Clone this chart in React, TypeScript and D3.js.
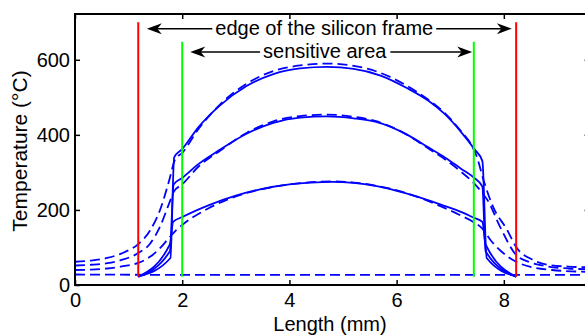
import React, { useEffect, useRef } from 'react';
import * as d3 from 'd3';

type Pt = [number, number];

const xTicks = [0, 2, 4, 6, 8];
const yTicks = [0, 200, 400, 600];

// vertical markers (mm) and their extent (°C)
const frameEdges = [1.18, 8.23];
const frameSpan: Pt = [22, 700];
const sensitiveEdges = [2.0, 7.44];
const sensitiveSpan: Pt = [22, 648];

// solid curves (kinked at the membrane edge)
const topSolid: Pt[] = [
  [1.18, 22], [1.78, 72], [1.85, 340], [2.0, 362], [2.3, 420], [2.7, 478], [3.2, 530],
  [3.7, 562], [4.2, 577], [4.7, 581], [5.2, 576], [5.7, 558], [6.2, 524], [6.6, 490],
  [6.9, 455], [7.2, 408], [7.45, 362], [7.6, 330], [7.68, 72], [8.23, 22],
];
const midSolid: Pt[] = [
  [1.18, 22], [1.77, 90], [1.84, 268], [2.0, 285], [2.3, 322], [2.7, 360], [3.2, 403],
  [3.7, 432], [4.2, 446], [4.7, 449], [5.2, 444], [5.6, 435], [6.2, 400], [6.6, 366],
  [6.9, 340], [7.2, 310], [7.45, 285], [7.6, 262], [7.66, 90], [8.23, 22],
];
const lowSolid: Pt[] = [
  [1.18, 22], [1.77, 108], [1.83, 168], [2.0, 181], [2.5, 213], [3.0, 238], [3.45, 255],
  [4.0, 268], [4.4, 273], [4.8, 275], [5.2, 272], [5.6, 264], [5.95, 253], [6.4, 235],
  [6.85, 213], [7.2, 195], [7.43, 180], [7.6, 168], [7.66, 108], [8.23, 22],
];

// dashed curves (full length)
const topDashed: Pt[] = [
  [0, 62], [0.3, 65], [0.6, 72], [0.9, 86], [1.18, 109], [1.4, 145], [1.6, 205],
  [1.75, 275], [1.87, 335], [2.0, 352], [2.3, 415], [2.7, 480], [3.2, 536], [3.7, 570],
  [4.2, 585], [4.7, 590], [5.2, 584], [5.7, 565], [6.2, 530], [6.6, 493], [6.9, 458],
  [7.2, 410], [7.4, 372], [7.5, 340], [7.62, 280], [7.8, 208], [8.06, 147], [8.23, 101],
  [8.54, 67], [8.86, 53], [9.2, 49], [9.6, 47],
];
const midDashed: Pt[] = [
  [0, 52], [0.3, 54], [0.6, 58], [0.9, 68], [1.18, 85], [1.4, 110], [1.6, 160],
  [1.75, 215], [1.85, 250], [2.0, 268], [2.3, 315], [2.7, 357], [3.2, 405], [3.7, 436],
  [4.2, 450], [4.7, 454], [5.2, 448], [5.6, 437], [6.2, 400], [6.6, 363], [6.9, 335],
  [7.2, 302], [7.45, 270], [7.6, 245], [7.7, 225], [7.93, 155], [8.23, 80], [8.5, 60],
  [8.8, 50], [9.2, 44], [9.6, 42],
];
const lowDashed: Pt[] = [
  [0, 40], [0.3, 41], [0.6, 44], [0.9, 50], [1.18, 59], [1.4, 75], [1.6, 100],
  [1.75, 125], [1.9, 148], [2.0, 160], [2.5, 205], [3.0, 236], [3.45, 254], [4.0, 268],
  [4.4, 274], [4.8, 276], [5.2, 273], [5.6, 265], [5.95, 254], [6.4, 234], [6.85, 208],
  [7.2, 185], [7.43, 168], [7.6, 150], [7.75, 120], [7.95, 90], [8.23, 62], [8.5, 48],
  [8.9, 40], [9.6, 35],
];
const ambientDashed: Pt[] = [[0, 28], [2, 27], [4, 27], [6, 27], [8, 27], [9.6, 27]];

const solidCurves = [topSolid, midSolid, lowSolid];
const dashedCurves = [topDashed, midDashed, lowDashed, ambientDashed];

// double arrows: tips (mm), height (°C), label centre (mm)
const arrowLabels = ['edge of the silicon frame', 'sensitive area'];
const arrowFrom = [1.34, 2.15];
const arrowTo = [8.15, 7.41];
const arrowLevel = [683, 621];
const arrowTextAt = [4.65, 4.66];

const W = 585;
const H = 335;
const FONT = 'Liberation Sans, Arial, Helvetica, sans-serif';

function TemperatureProfile() {
  const ref = useRef<SVGSVGElement | null>(null);

  useEffect(() => {
    const svg = d3.select(ref.current);
    svg.selectAll('*').remove();

    const xScale = d3.scaleLinear().domain([0, 9.6]).range([75, 589.6]);
    const yScale = d3.scaleLinear().domain([0, 722]).range([285, 14]);

    const line = d3.line<Pt>()
      .x(d => xScale(d[0]))
      .y(d => yScale(d[1]))
      .curve(d3.curveMonotoneX);

    // curves
    svg.selectAll('.solid')
      .data(solidCurves)
      .join('path')
      .attr('class', 'solid')
      .attr('fill', 'none')
      .attr('stroke', '#0000ff')
      .attr('stroke-width', 1.8)
      .attr('d', line);

    svg.selectAll('.dashed')
      .data(dashedCurves)
      .join('path')
      .attr('class', 'dashed')
      .attr('fill', 'none')
      .attr('stroke', '#0000ff')
      .attr('stroke-width', 1.8)
      .attr('stroke-dasharray', '10,5')
      .attr('d', line);

    // edge markers
    svg.selectAll('.frame-edge')
      .data(frameEdges)
      .join('line')
      .attr('class', 'frame-edge')
      .attr('x1', d => xScale(d)).attr('x2', d => xScale(d))
      .attr('y1', yScale(frameSpan[0])).attr('y2', yScale(frameSpan[1]))
      .attr('stroke', '#ff0000')
      .attr('stroke-width', 2);

    svg.selectAll('.sens-edge')
      .data(sensitiveEdges)
      .join('line')
      .attr('class', 'sens-edge')
      .attr('x1', d => xScale(d)).attr('x2', d => xScale(d))
      .attr('y1', yScale(sensitiveSpan[0])).attr('y2', yScale(sensitiveSpan[1]))
      .attr('stroke', '#00ff00')
      .attr('stroke-width', 2);

    // axes, ticks pointing inward like matlab
    const xAxis = d3.axisBottom(xScale).tickValues(xTicks).tickSizeInner(-5).tickSizeOuter(0).tickPadding(8);
    const yAxis = d3.axisLeft(yScale).tickValues(yTicks).tickSizeInner(-5).tickSizeOuter(0).tickPadding(5);
    const xTop = d3.axisTop(xScale).tickValues(xTicks).tickSizeInner(-5).tickSizeOuter(0).tickFormat(() => '');
    const yRight = d3.axisRight(yScale).tickValues(yTicks).tickSizeInner(-5).tickSizeOuter(0).tickFormat(() => '');

    const gx = svg.append('g').attr('transform', `translate(0,${yScale(0)})`).call(xAxis);
    const gy = svg.append('g').attr('transform', `translate(${xScale(0)},0)`).call(yAxis);
    svg.append('g').attr('transform', `translate(0,${yScale(722)})`).call(xTop);
    svg.append('g').attr('transform', `translate(${xScale(9.6)},0)`).call(yRight);

    svg.selectAll('.domain').remove();
    svg.selectAll('.tick line').attr('stroke', '#000').attr('stroke-width', 1.5);
    [gx, gy].forEach(g => g.attr('font-size', 20).attr('font-family', FONT));
    svg.selectAll('.tick text').attr('fill', '#000');

    svg.append('rect')
      .attr('x', xScale(0)).attr('y', yScale(722))
      .attr('width', xScale(9.6) - xScale(0))
      .attr('height', yScale(0) - yScale(722))
      .attr('fill', 'none')
      .attr('stroke', '#000')
      .attr('stroke-width', 2);

    // axis titles
    svg.append('text')
      .attr('x', 330).attr('y', 331)
      .attr('text-anchor', 'middle')
      .attr('font-family', FONT).attr('font-size', 20)
      .text('Length (mm)');

    svg.append('text')
      .attr('transform', 'translate(27,151) rotate(-90)')
      .attr('text-anchor', 'middle')
      .attr('font-family', FONT).attr('font-size', 21)
      .text('Temperature (°C)');

    // double arrows with labels
    const head = (x: number, y: number, dir: number) => {
      const l = 15 * dir;
      return [[x, y], [x + l, y - 5.5], [x + l * 0.7, y], [x + l, y + 5.5]].map(p => p.join(',')).join(' ');
    };

    arrowLabels.forEach((label, i) => {
      const y = yScale(arrowLevel[i]);
      const x1 = xScale(arrowFrom[i]);
      const x2 = xScale(arrowTo[i]);
      const g = svg.append('g');
      g.append('line')
        .attr('x1', x1 + 8).attr('x2', x2 - 8)
        .attr('y1', y).attr('y2', y)
        .attr('stroke', '#000').attr('stroke-width', 1.5);
      g.append('polygon').attr('points', head(x1, y, 1)).attr('fill', '#000');
      g.append('polygon').attr('points', head(x2, y, -1)).attr('fill', '#000');
      const bg = g.append('rect').attr('fill', '#fff');
      const t = g.append('text')
        .attr('x', xScale(arrowTextAt[i])).attr('y', y + 6)
        .attr('text-anchor', 'middle')
        .attr('font-family', FONT).attr('font-size', 20)
        .text(label);
      const bb = (t.node() as SVGTextElement).getBBox();
      bg.attr('x', bb.x - 3).attr('y', y - 3).attr('width', bb.width + 6).attr('height', 6);
    });
  }, []);

  return (
    <svg
      ref={ref}
      width={W}
      height={H}
      style={{ position: 'absolute', left: 0, top: 0, background: '#fff' }}
    />
  );
}

export default function App() {
  return <TemperatureProfile />;
}
